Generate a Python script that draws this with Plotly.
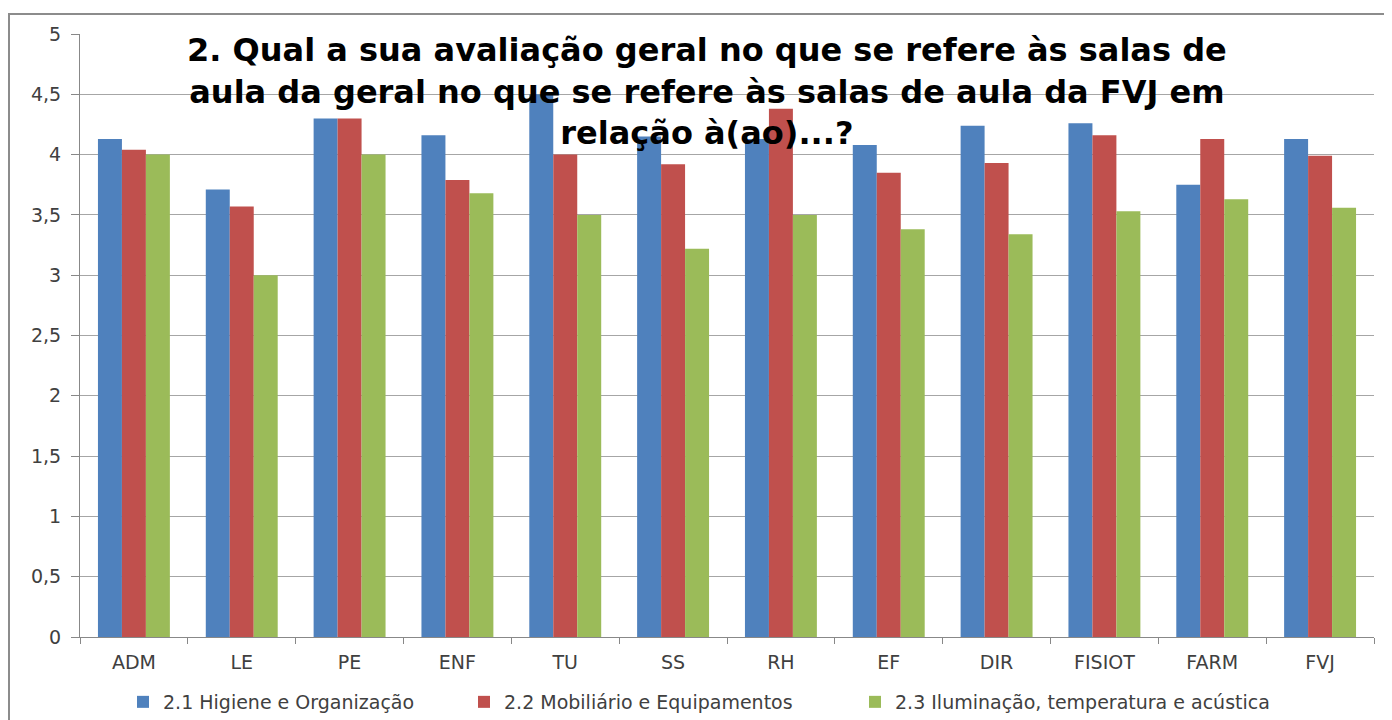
import plotly.graph_objects as go

categories = ["ADM", "LE", "PE", "ENF", "TU", "SS", "RH", "EF", "DIR", "FISIOT", "FARM", "FVJ"]
higiene = [4.13, 3.71, 4.30, 4.16, 4.50, 4.15, 4.13, 4.08, 4.24, 4.26, 3.75, 4.13]
mobiliario = [4.04, 3.57, 4.30, 3.79, 4.00, 3.92, 4.38, 3.85, 3.93, 4.16, 4.13, 3.99]
iluminacao = [4.00, 3.00, 4.00, 3.68, 3.50, 3.22, 3.50, 3.38, 3.34, 3.53, 3.63, 3.56]
series_names = ["2.1 Higiene e Organização", "2.2 Mobiliário e Equipamentos",
                "2.3 Iluminação, temperatura e acústica"]
y_ticks = [0, 0.5, 1, 1.5, 2, 2.5, 3, 3.5, 4, 4.5, 5]
y_tick_labels = ["0", "0,5", "1", "1,5", "2", "2,5", "3", "3,5", "4", "4,5", "5"]
title_text = ("2. Qual a sua avaliação geral no que se refere às salas de<br>"
              "aula da geral no que se refere às salas de aula da FVJ em<br>"
              "relação à(ao)...?")

colors = ["#4F81BD", "#C0504D", "#9BBB59"]
legend_ids = ["legend", "legend2", "legend3"]

fig = go.Figure()
for name, vals, col, lg in zip(series_names, [higiene, mobiliario, iluminacao], colors, legend_ids):
    fig.add_trace(go.Bar(x=categories, y=vals, name=name, legend=lg,
                         marker=dict(color=col, line=dict(width=0))))

W, H = 1392, 720
OFF = 8  # page body margin
L, R, T, B = 72, 26, 26, 91
pw, ph = W - L - R, H - T - B

def px(x):
    return (x - OFF - L) / pw

def py(y):
    return (H - B - (y - OFF)) / ph

FONT = "DejaVu Sans, sans-serif"

def legend_at(xpage):
    return dict(orientation="h", x=px(xpage - 14), xanchor="left", y=py(702), yanchor="middle",
                font=dict(family=FONT, size=19, color="#404040"), itemwidth=30,
                bgcolor="rgba(0,0,0,0)", borderwidth=0)

fig.update_layout(
    width=W, height=H,
    margin=dict(l=L, r=R, t=T, b=B, autoexpand=False),
    paper_bgcolor="white", plot_bgcolor="white",
    separators=",.",
    barmode="group", bargap=0.333, bargroupgap=0,
    font=dict(family=FONT, color="#404040", size=19),
    showlegend=True,
    legend=legend_at(137),
    legend2=legend_at(478),
    legend3=legend_at(869),
    xaxis=dict(showline=True, linecolor="#888888", linewidth=1,
               ticks="outside", ticklen=6, tickcolor="#888888",
               tickson="boundaries", showgrid=False, automargin=False,
               tickfont=dict(family=FONT, size=19, color="#404040"),
               ticklabelstandoff=8),
    yaxis=dict(range=[0, 5], tickvals=y_ticks, ticktext=y_tick_labels,
               showline=True, linecolor="#888888", linewidth=1,
               ticks="outside", ticklen=8, tickcolor="#888888",
               showgrid=True, gridcolor="#A6A6A6", gridwidth=1,
               zeroline=False, automargin=False,
               tickfont=dict(family=FONT, size=19, color="#404040"),
               ticklabelstandoff=6),
    annotations=[dict(text=title_text, xref="paper", yref="paper",
                      x=px(707), y=py(91), xanchor="center", yanchor="middle",
                      showarrow=False, align="center",
                      font=dict(family=FONT, size=32, color="black",
                                weight="bold"))],
    shapes=[dict(type="rect", xref="paper", yref="paper",
                 x0=px(9), x1=px(1420), y0=py(740), y1=py(14),
                 line=dict(color="#8C8C8C", width=2), layer="above")],
)

fig.write_html("out.html")
